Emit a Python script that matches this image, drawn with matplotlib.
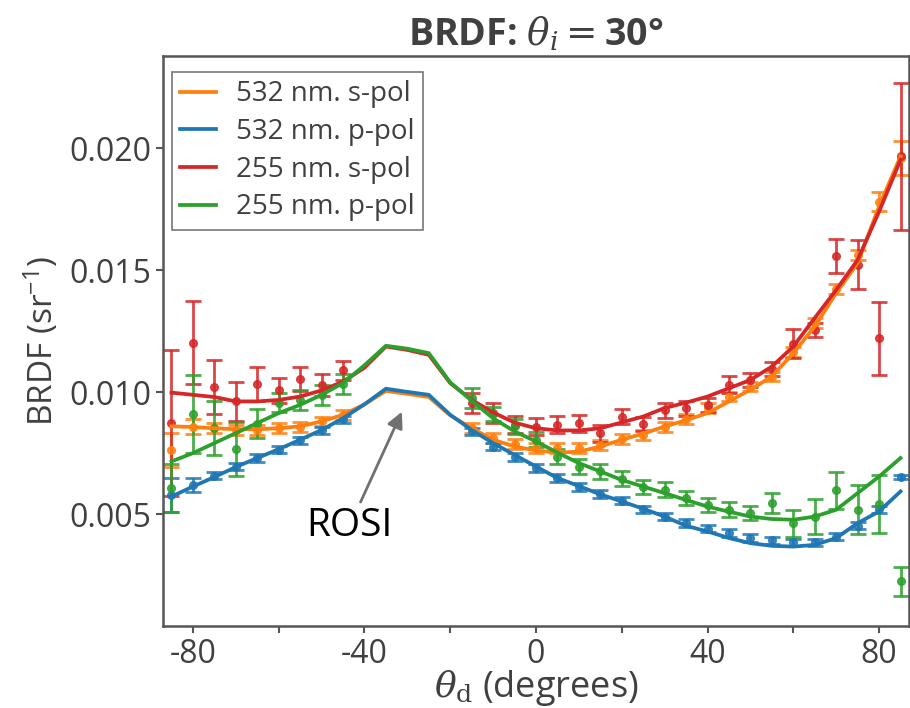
import matplotlib
matplotlib.use("Agg")
import matplotlib.pyplot as plt
import numpy as np

# model curves, every 5 degrees from -85 to 85
theta_model = np.arange(-85, 86, 5)
s532_model = [0.0086, 0.00857, 0.00852, 0.00848, 0.00848, 0.00852, 0.0086, 0.0088, 0.00907,
              0.0095, 0.01005, 0.00993, 0.0098, 0.00905,
              0.00852, 0.00805, 0.00777, 0.00761, 0.00752, 0.00756, 0.00777, 0.00805, 0.0083,
              0.00859, 0.00885, 0.00914, 0.00962, 0.0101, 0.01064, 0.0116, 0.01269, 0.01406,
              0.01529, 0.01761, 0.01966]
p532_model = [0.00572, 0.00613, 0.00652, 0.00693, 0.0073, 0.00766, 0.00805, 0.00845, 0.00893,
              0.0095, 0.01014, 0.01001, 0.00989, 0.00907,
              0.00845, 0.00791, 0.00743, 0.00695, 0.00648, 0.00615, 0.00581, 0.00552, 0.00522,
              0.0049, 0.00452, 0.00429, 0.00402, 0.00381, 0.0037, 0.00367, 0.00374, 0.00402,
              0.00463, 0.00511, 0.00593]
s255_model = [0.00998, 0.00989, 0.0098, 0.00962, 0.00962, 0.00968, 0.00982, 0.01007, 0.01043,
              0.0110, 0.01187, 0.01173, 0.01153, 0.01037,
              0.00968, 0.00917, 0.00875, 0.00852, 0.00843, 0.00843, 0.00852, 0.00876, 0.009,
              0.00935, 0.00957, 0.00982, 0.01016, 0.0105, 0.01105, 0.01187, 0.01304, 0.01419,
              0.01542, 0.0174, 0.01952]
p255_model = [0.00716, 0.0075, 0.00791, 0.00832, 0.00873, 0.00914, 0.00948, 0.00989, 0.01037,
              0.0111, 0.0119, 0.01178, 0.0116, 0.0104,
              0.00965, 0.00893, 0.00839, 0.00798, 0.00752, 0.00709, 0.00675, 0.0064, 0.00613,
              0.00586, 0.00558, 0.00531, 0.0051, 0.0049, 0.0048, 0.00477, 0.0049, 0.00518,
              0.00586, 0.00654, 0.0073]

# measurements (specular region -40..-20 not measured)
theta_meas = list(range(-85, -44, 5)) + list(range(-15, 86, 5))
s532_meas = [0.00764, 0.00859, 0.00852, 0.00845, 0.00845, 0.00852, 0.00857, 0.0088, 0.00907,
             0.00852, 0.00811, 0.00788, 0.0077, 0.0077, 0.0077, 0.00784, 0.00808, 0.00825,
             0.00857, 0.00889, 0.00934, 0.00982, 0.01023, 0.01064, 0.01166, 0.01283, 0.01422,
             0.01563, 0.01781, 0.01959]
s532_err = [0.0007, 0.0003, 0.0002, 0.0002, 0.0002, 0.0002, 0.0002, 0.0002, 0.0002,
            0.0002, 0.0002, 0.0002, 0.0002, 0.0002, 0.0002, 0.0002, 0.0002, 0.0002,
            0.0002, 0.0002, 0.0002, 0.0002, 0.0002, 0.0002, 0.0002, 0.0002, 0.0002,
            0.0002, 0.0004, 0.0007]
p532_meas = [0.00579, 0.0062, 0.00657, 0.00695, 0.0073, 0.00764, 0.00802, 0.00843, 0.00889,
             0.00839, 0.00777, 0.00734, 0.00689, 0.00648, 0.00611, 0.00582, 0.00555, 0.0052,
             0.0049, 0.00463, 0.0044, 0.00422, 0.00402, 0.00392, 0.00384, 0.00384, 0.00408,
             0.00452, 0.0052, 0.00652]
p532_err = [0.0007, 0.0003, 0.00015, 0.00015, 0.00015, 0.00015, 0.00015, 0.00015, 0.00015,
            0.00015, 0.00015, 0.00015, 0.00015, 0.00015, 0.00015, 0.00015, 0.00015, 0.00015,
            0.00015, 0.00015, 0.00015, 0.00015, 0.00015, 0.00015, 0.00015, 0.00015, 0.00015,
            0.00015, 0.00015, 0.0001]
s255_meas = [0.00873, 0.01203, 0.0102, 0.00962, 0.01033, 0.01007, 0.01053, 0.0103, 0.01089,
             0.00955, 0.00914, 0.00866, 0.00859, 0.00866, 0.00873, 0.00832, 0.009, 0.0087,
             0.00925, 0.00934, 0.00948, 0.0103, 0.0105, 0.01095, 0.01198, 0.01255, 0.01559,
             0.01522, 0.01221, 0.01966]
s255_err = [0.003, 0.0017, 0.0011, 0.0008, 0.0007, 0.0005, 0.0005, 0.00045, 0.0004,
            0.0004, 0.0004, 0.00035, 0.00035, 0.00035, 0.00035, 0.00035, 0.0003, 0.0003,
            0.0003, 0.0003, 0.0003, 0.00035, 0.0003, 0.0003, 0.0006, 0.0003, 0.0007,
            0.001, 0.0015, 0.003]
p255_meas = [0.00607, 0.00911, 0.00852, 0.00766, 0.0087, 0.00957, 0.00968, 0.00989, 0.01034,
             0.00977, 0.0091, 0.0086, 0.00805, 0.00736, 0.00695, 0.00675, 0.00645, 0.00611,
             0.006, 0.00566, 0.00538, 0.00518, 0.00504, 0.00545, 0.00463, 0.0049, 0.00597,
             0.00518, 0.00542, 0.00224]
p255_err = [0.001, 0.0016, 0.0011, 0.0011, 0.0006, 0.0004, 0.0004, 0.0004, 0.0004,
            0.0004, 0.0003, 0.0003, 0.0003, 0.0003, 0.0003, 0.0003, 0.0003, 0.0003,
            0.0003, 0.0003, 0.0003, 0.0003, 0.0003, 0.0004, 0.00055, 0.0007, 0.00074,
            0.001, 0.0012, 0.0006]

labels = ["532 nm. s-pol", "532 nm. p-pol", "255 nm. s-pol", "255 nm. p-pol"]
colors = ["#ff7f0e", "#1f77b4", "#d62728", "#2ca02c"]

plt.rcParams['font.family'] = ['Open Sans', 'DejaVu Sans']
plt.rcParams['mathtext.fontset'] = 'dejavuserif'
txt = '#404040'

fig = plt.figure(figsize=(9.1, 7.08), dpi=100)
ax = fig.add_axes([0.179, 0.116, 0.820, 0.805])

models = [s532_model, p532_model, s255_model, p255_model]
meas = [s532_meas, p532_meas, s255_meas, p255_meas]
errs = [s532_err, p532_err, s255_err, p255_err]

for m, c, lab in zip(models, colors, labels):
    ax.plot(theta_model, m, color=c, lw=2.7, label=lab, zorder=3)
for y, e, c in zip(meas, errs, colors):
    ax.errorbar(theta_meas, y, yerr=e, fmt='o', color=c, ms=5.5, elinewidth=2,
                capsize=5.5, capthick=2, alpha=0.85, zorder=2)

ax.annotate('ROSI', xy=(-31, 0.0093), xytext=(-43.5, 0.0045), ha='center', va='center',
            fontsize=28, color='black',
            arrowprops=dict(arrowstyle='-|>', color='#707070', lw=2, mutation_scale=24))

ax.set_xlim(-87, 87)
ax.set_ylim(0.00042, 0.02378)
ax.set_xticks([-80, -60, -40, -20, 0, 20, 40, 60, 80])
ax.set_xticklabels(['-80', '', '-40', '', '0', '', '40', '', '80'])
ax.set_yticks([0.005, 0.010, 0.015, 0.020])
ax.set_yticklabels(['0.005', '0.010', '0.015', '0.020'])
ax.tick_params(labelsize=23, colors='#555555', labelcolor=txt, width=1.5, length=5)
for s in ax.spines.values():
    s.set_color('#555555')
    s.set_linewidth(1.8)

ax.set_xlabel(r'$\theta_{\mathrm{d}}$ (degrees)', fontsize=26, color=txt, labelpad=-2)
ax.set_ylabel(r'BRDF (sr$^{\mathregular{-1}}$)', fontsize=24, color=txt, labelpad=6)
ax.set_title(r'BRDF: $\theta_i = $30°', fontsize=27, fontweight='bold', color=txt, pad=8)

leg = ax.legend(loc='upper left', fontsize=20, frameon=True, fancybox=False,
                handlelength=1.3, borderpad=0.3, labelspacing=0.35, handletextpad=0.7,
                borderaxespad=0, bbox_to_anchor=(0.012, 0.972))
leg.get_frame().set_edgecolor('#555555')
leg.get_frame().set_linewidth(1.2)
for t in leg.get_texts():
    t.set_color(txt)

fig.savefig('out.png', dpi=100)
